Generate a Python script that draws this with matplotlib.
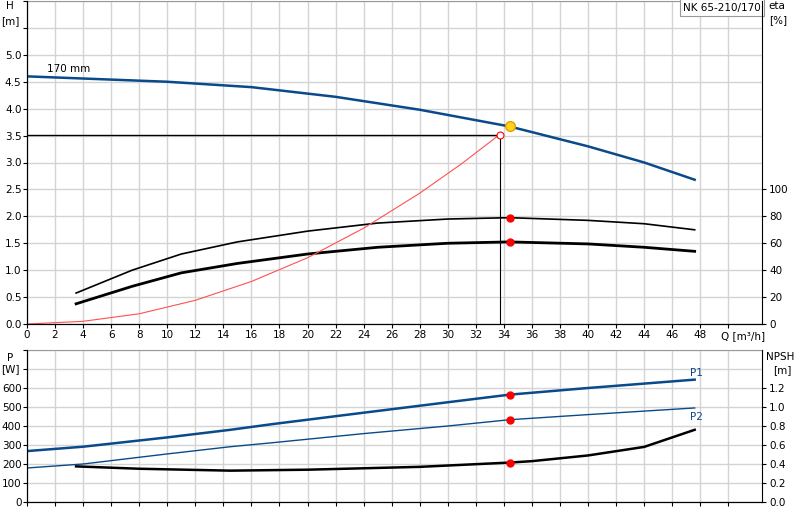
import matplotlib
matplotlib.use("Agg")
import matplotlib.pyplot as plt
import numpy as np

q_h = [0, 4, 10, 16, 22, 28, 34.4, 40, 44, 47.6]
h = [4.6, 4.56, 4.5, 4.4, 4.22, 3.98, 3.67, 3.3, 3.0, 2.68]
q_eta = [3.5, 7.5, 11, 15, 20, 25, 30, 34.4, 40, 44, 47.6]
eta1 = [23, 40, 52, 61, 69, 75, 78, 79, 77, 74.5, 70]
eta2 = [15, 28, 38, 45, 52, 57, 60, 61, 59.5, 57, 54]
q_sys = [0, 4, 8, 12, 16, 20, 24, 28, 31, 33.7]
h_sys = [0, 0.05, 0.19, 0.44, 0.79, 1.23, 1.78, 2.43, 2.98, 3.52]
q_p = [0, 4, 10, 14.5, 17.5, 24, 30, 34.4, 40, 47.6]
p1 = [268, 291, 340, 380, 410, 470, 525, 565, 600, 644]
p2 = [179, 200, 253, 291, 312, 360, 400, 433, 460, 495]
q_npsh = [3.5, 8, 14.5, 20, 28, 34.4, 36, 40, 44, 47.6]
npsh = [0.375, 0.35, 0.33, 0.34, 0.37, 0.415, 0.43, 0.49, 0.58, 0.76]
duty_q, duty_h = 33.7, 3.52
op_q, op_h = 34.4, 3.67

fig = plt.figure(figsize=(8, 5.2), dpi=100)
W, H = 800, 520
L, R = 27, 762
ax = fig.add_axes([L/W, 1-324/H, (R-L)/W, 323/H])
axb = fig.add_axes([L/W, 1-502/H, (R-L)/W, 152/H])
blue = '#0a4a8a'
gc = '#d4d4d4'
xmax = 52.4
fs = 7.5
for a in (ax, axb):
    a.set_xlim(0, xmax)
    a.set_xticks(np.arange(0, 51, 2))
    a.grid(True, color=gc, lw=1)
    a.set_axisbelow(True)
    a.spines['top'].set_color('#999999')
    a.tick_params(labelsize=fs, length=3, pad=1)

ax.set_ylim(0, 6)
ax.set_yticks(np.arange(0, 6.01, 0.5))
ax.set_yticklabels([f'{v:.1f}' if v <= 5 else '' for v in np.arange(0, 6.01, 0.5)])
ax.set_xticklabels([str(v) if v <= 48 else '' for v in range(0, 51, 2)])
ax.spines['right'].set_visible(False)

ax.plot(q_h, h, color=blue, lw=1.8)
ax.plot(np.array(q_eta), np.array(eta1)/40, color='black', lw=1.2)
ax.plot(np.array(q_eta), np.array(eta2)/40, color='black', lw=2)
ax.plot(q_sys, h_sys, color='#ff5050', lw=0.8)
ax.plot([0, duty_q], [duty_h, duty_h], color='black', lw=1)
ax.plot([duty_q, duty_q], [0, duty_h], color='black', lw=0.8)
ax.plot(duty_q, duty_h, 'o', mfc='white', mec='red', ms=5, mew=0.8)
ax.plot(op_q, op_h, 'o', color='#ffd21e', mec='#e0a000', ms=7)
ax.plot(op_q, np.interp(op_q, q_eta, eta1)/40, 'o', color='red', ms=5)
ax.plot(op_q, np.interp(op_q, q_eta, eta2)/40, 'o', color='red', ms=5)
ax.text(1.4, 4.68, '170 mm', fontsize=fs)
ax.text(49.5, -0.22, 'Q [m³/h]', fontsize=fs, va='center')
ax.text(-1.2, 5.9, 'H', fontsize=fs, ha='center', va='center')
ax.text(-1.2, 5.62, '[m]', fontsize=fs, ha='center', va='center')

ax2 = ax.twinx()
ax2.set_ylim(0, 240)
ax2.set_yticks(np.arange(0, 101, 20))
ax2.tick_params(labelsize=fs, length=3, pad=2)
ax2.spines['top'].set_visible(False)
ax2.text(1.008, 0.985, 'eta', transform=ax.transAxes, fontsize=fs, va='center')
ax2.text(1.01, 0.94, '[%]', transform=ax.transAxes, fontsize=fs, va='center')
ax.text(0.998, 0.995, 'NK 65-210/170', transform=ax.transAxes, fontsize=fs, ha='right', va='top',
        bbox=dict(boxstyle='square,pad=0.3', fc='white', ec='#999999', lw=0.8))

axb.set_ylim(0, 800)
axb.set_yticks(np.arange(0, 801, 100))
axb.set_yticklabels([str(v) if v <= 600 else '' for v in range(0, 801, 100)])
axb.set_xticklabels([])
axb.spines['right'].set_visible(False)
axb.plot(q_p, p1, color=blue, lw=1.8)
axb.plot(q_p, p2, color=blue, lw=1)
axb.plot(q_npsh, np.array(npsh)*500, color='black', lw=1.8)
for yv in (np.interp(op_q, q_p, p1), np.interp(op_q, q_p, p2), np.interp(op_q, q_npsh, npsh)*500):
    axb.plot(op_q, yv, 'o', color='red', ms=5)
axb.text(47.3, 665, 'P1', fontsize=fs, color=blue)
axb.text(47.3, 430, 'P2', fontsize=fs, color=blue)
axb.text(-1.2, 760, 'P', fontsize=fs, ha='center', va='center')
axb.text(-1.2, 700, '[W]', fontsize=fs, ha='center', va='center')
axb2 = axb.twinx()
axb2.set_ylim(0, 1.6)
axb2.set_yticks(np.arange(0, 1.21, 0.2))
axb2.set_yticklabels([f'{v:.1f}' for v in np.arange(0, 1.21, 0.2)])
axb2.tick_params(labelsize=fs, length=3, pad=2)
axb2.spines['top'].set_visible(False)
axb2.text(1.005, 0.955, 'NPSH', transform=axb.transAxes, fontsize=fs, va='center')
axb2.text(1.015, 0.87, '[m]', transform=axb.transAxes, fontsize=fs, va='center')

fig.savefig('out.png', dpi=100)
